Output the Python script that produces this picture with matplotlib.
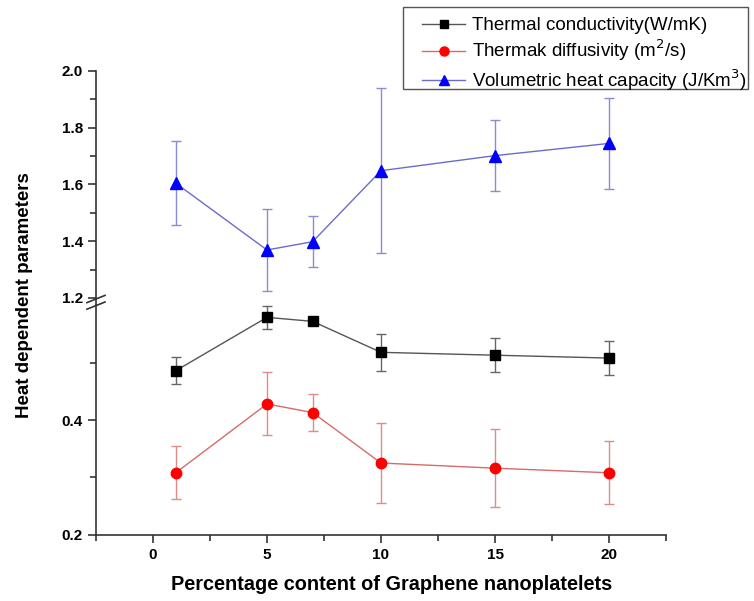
import matplotlib.pyplot as plt
from matplotlib.lines import Line2D
from matplotlib.patches import Rectangle
from matplotlib.ticker import MultipleLocator, FixedLocator

plt.rcParams['font.family'] = ['Liberation Sans', 'DejaVu Sans']

# data
gnp = [1, 5, 7, 10, 15, 20]
conductivity = [0.486, 0.579, 0.572, 0.518, 0.513, 0.508]
conductivity_err = [0.024, 0.020, 0.0, 0.032, 0.030, 0.030]
diffusivity = [0.308, 0.428, 0.413, 0.325, 0.316, 0.308]
diffusivity_err = [0.046, 0.055, 0.032, 0.070, 0.068, 0.055]
heat_capacity = [1.604, 1.369, 1.398, 1.648, 1.701, 1.744]
heat_capacity_err = [0.148, 0.144, 0.090, 0.290, 0.125, 0.160]

labels = ['Thermal conductivity(W/mK)',
          'Thermak diffusivity (m$^2$/s)',
          'Volumetric heat capacity (J/Km$^3$)']

fig = plt.figure(figsize=(7.54, 6.01), dpi=100)
left, width = 0.1273, 0.756
ax_top = fig.add_axes([left, 0.5042, width, 0.3782])
ax_bot = fig.add_axes([left, 0.1103, width, 0.3817])

# black / red on lower part, blue on upper part
ax_bot.errorbar(gnp, conductivity, yerr=conductivity_err, color='#555555', lw=1,
                marker='s', ms=7, mfc='black', mec='black', capsize=3.5,
                elinewidth=1, ecolor='#666666')
ax_bot.errorbar(gnp, diffusivity, yerr=diffusivity_err, color='#d86a6a', lw=1,
                marker='o', ms=7.5, mfc='#ff0000', mec='#ff0000', capsize=3.5,
                elinewidth=1, ecolor='#e08a8a')
ax_top.errorbar(gnp, heat_capacity, yerr=heat_capacity_err, color='#6b6bcc', lw=1,
                marker='^', ms=8.5, mfc='#0000ff', mec='#0000ff', capsize=3.5,
                elinewidth=1, ecolor='#8a8ad8')

for ax in (ax_top, ax_bot):
    ax.set_xlim(-2.5, 22.5)
    ax.spines['top'].set_visible(False)
    ax.spines['right'].set_visible(False)
    ax.spines['left'].set_linewidth(1.2)
    ax.spines['left'].set_color('#333333')
    ax.tick_params(which='both', direction='out', color='#333333', width=1.2,
                   labelsize=11)
    ax.tick_params(which='major', length=6)
    ax.tick_params(which='minor', length=4)

ax_top.set_ylim(1.2, 2.0)
ax_top.yaxis.set_major_locator(MultipleLocator(0.2))
ax_top.yaxis.set_minor_locator(MultipleLocator(0.1))
ax_top.spines['bottom'].set_visible(False)
ax_top.set_xticks([])

ax_bot.set_ylim(0.2, 0.6)
ax_bot.yaxis.set_major_locator(FixedLocator([0.2, 0.4]))
ax_bot.yaxis.set_minor_locator(FixedLocator([0.3, 0.5]))
ax_bot.xaxis.set_major_locator(MultipleLocator(5))
ax_bot.xaxis.set_minor_locator(MultipleLocator(2.5))
ax_bot.spines['bottom'].set_linewidth(1.2)
ax_bot.spines['bottom'].set_color('#333333')

for ax in (ax_top, ax_bot):
    for t in ax.get_yticklabels() + ax.get_xticklabels():
        t.set_fontweight('bold')

ax_bot.set_xlabel('Percentage content of Graphene nanoplatelets',
                  fontsize=14.3, fontweight='bold')
ax_bot.xaxis.set_label_coords(0.519, -0.175)
fig.text(0.033, 0.509, 'Heat dependent parameters', rotation=90, fontsize=13.5,
         fontweight='bold', ha='center', va='center')

# join spines across the gap and draw break marks
x0 = left
fig.add_artist(Line2D([x0, x0], [0.4920, 0.5042], color='#333333', lw=1.2))
for yc in (0.5025, 0.4915):
    fig.add_artist(Line2D([x0 - 0.012, x0 + 0.012], [yc - 0.006, yc + 0.006],
                          color='#333333', lw=1.2))

handles = [
    Line2D([], [], color='#555555', lw=1, marker='s', ms=6, mfc='black', mec='black'),
    Line2D([], [], color='#d86a6a', lw=1, marker='o', ms=6.5, mfc='#ff0000', mec='#ff0000'),
    Line2D([], [], color='#6b6bcc', lw=1, marker='^', ms=7, mfc='#0000ff', mec='#0000ff'),
]
fig.legend(handles, labels, loc='upper left', bbox_to_anchor=(422 / 754, 1 - 17 / 601),
           fontsize=13.5, frameon=False, borderpad=0, borderaxespad=0,
           handlelength=2.3, labelspacing=0.2, handletextpad=0.37)
fig.add_artist(Rectangle((403 / 754, 1 - 89 / 601), 345 / 754, 82 / 601,
                         transform=fig.transFigure, fill=False,
                         edgecolor='#555555', lw=1))

plt.savefig('out.png', dpi=100)
